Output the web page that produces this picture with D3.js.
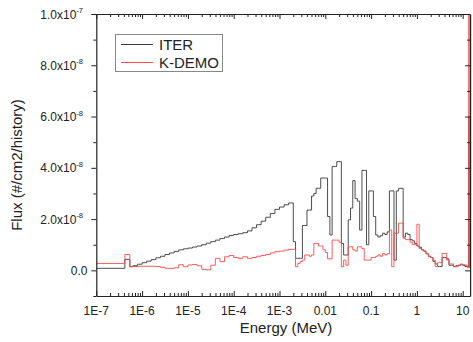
<!DOCTYPE html>
<html><head><meta charset="utf-8">
<script src="https://cdn.jsdelivr.net/npm/d3@7"></script>
<style>body{margin:0;background:#fff}svg{display:block}text{font-family:"Liberation Sans",Arial,sans-serif;fill:#222}</style>
</head><body><svg id="c" width="473" height="342"></svg>
<script>
// Energy group boundaries (MeV)
const energyEdges = [1e-7, 4.2e-7, 5.4e-7, 6.3e-7, 7.9e-7,
 1e-6, 1.26e-6, 1.58e-6, 2e-6, 2.51e-6, 3.16e-6, 3.98e-6, 5.01e-6, 6.31e-6, 7.94e-6,
 1e-5, 1.26e-5, 1.58e-5, 2e-5, 2.51e-5, 3.16e-5, 3.98e-5, 5.01e-5, 6.31e-5, 7.94e-5,
 1e-4, 1.26e-4, 1.58e-4, 2e-4, 2.51e-4, 3.16e-4, 3.98e-4, 5.01e-4, 6.31e-4, 7.94e-4,
 1e-3, 1.26e-3, 1.58e-3, 2e-3,
 2.24e-3, 2.51e-3, 2.82e-3, 3.16e-3, 3.55e-3, 3.98e-3, 4.47e-3, 5.01e-3, 5.62e-3, 6.31e-3, 7.08e-3, 7.94e-3, 8.91e-3,
 0.01, 0.0112, 0.0126, 0.0141, 0.0158, 0.0178, 0.02, 0.0224, 0.0251, 0.0282, 0.0316, 0.0355, 0.0398, 0.0447, 0.0501, 0.0562, 0.0631, 0.0708, 0.0794, 0.0891,
 0.1, 0.112, 0.126, 0.141, 0.158, 0.178, 0.2, 0.224, 0.251, 0.282, 0.316, 0.355, 0.398, 0.447, 0.501, 0.562, 0.631, 0.708, 0.794, 0.891,
 1, 1.12, 1.26, 1.41, 1.58, 1.78, 2, 2.24, 2.51, 2.82, 3.16, 3.55, 3.98, 4.47, 5.01, 5.62, 6.31, 7.08, 7.94, 8.91,
 10, 11.2, 12.6, 13.5, 14.2, 14.5];

// Flux per group, in units of 1e-8 #/cm2/history
const FLUX_UNIT = 1e-8;
const iterFlux = [0.08, 0.43, 0.14,
 0.18, 0.24, 0.30, 0.36, 0.42, 0.49, 0.55, 0.62, 0.68, 0.74,
 0.80, 0.84, 0.87, 0.91, 0.95, 1.00, 1.06, 1.12, 1.18, 1.24,
 1.30, 1.36, 1.40, 1.43, 1.47, 1.54, 1.66, 1.78, 1.92, 2.07,
 2.22, 2.38, 2.47, 2.56, 2.63,
 1.12, 0.47, 0.47, 0.47, 1.75, 1.75, 2.35, 2.35, 2.9, 3.0,
 3.2, 3.2, 3.6, 3.6, 3.6, 2.1, 1.38, 4.05, 4.05, 4.24,
 4.24, 1.05, 0.6, 0.6, 1.97, 2.43, 3.5, 2.8, 2.7, 1.57,
 3.9, 3.9, 1.0, 3.1, 3.1, 2.1, 1.38, 1.3, 1.35, 1.45,
 1.4, 1.5, 3.1, 3.1, 0.4, 3.1, 3.2, 3.2, 1.3, 1.45,
 1.4, 1.2, 1.15, 1.05, 0.95, 0.9, 0.8, 0.75, 0.65, 0.55,
 0.5, 0.35, 0.25, 0.15, 0.15, 0.5, 0.5, 0.45, 0.2, 0.2,
 0.15, 0.18, 0.2, 0.22, 0.2, 0.15,
 0.15, 6.0, 0.1];
const kdemoFlux = [0.27, 0.62, 0.15,
 0.15, 0.16, 0.16, 0.16, 0.16, 0.15, 0.12, 0.08, 0.08, 0.10,
 0.22, 0.14, 0.21, 0.23, 0.18, 0.04, 0.02, 0.2, 0.47, 0.34,
 0.53, 0.58, 0.5, 0.47, 0.53, 0.47, 0.5, 0.55, 0.58, 0.62,
 0.68, 0.73, 0.75, 0.79, 0.82,
 0.82, 0.14, 0.27, 0.35, 0.4, 0.6, 0.6, 0.55, 0.6, 1.05,
 1.05, 0.95, 0.95, 0.8, 0.7, 0.45, 0.45, 1.18, 1.18, 1.18,
 1.1, 0.14, 0.4, 0.2, 0.92, 0.92, 0.8, 0.75, 0.92, 0.92,
 0.85, 0.4, 0.4, 0.4, 0.5, 0.5, 0.55, 0.6, 0.55, 0.65,
 0.6, 0.65, 1.57, 0.14, 1.45, 1.45, 1.84, 1.84, 1.25, 1.2,
 1.2, 1.1, 1.0, 1.0, 1.8, 0.85, 0.8, 0.75, 0.65, 0.55,
 0.5, 0.4, 0.15, 0.3, 0.3, 0.66, 0.66, 0.4, 0.25, 0.25,
 0.14, 0.14, 0.2, 0.25, 0.22, 0.2,
 0.1, 30, 0.1];

const seriesNames = ["ITER", "K-DEMO"];
const seriesColors = ["#3a3a3a", "#ff4a4a"];
const xTickValues = [1e-7, 1e-6, 1e-5, 1e-4, 1e-3, 0.01, 0.1, 1, 10];
const xTickLabels = ["1E-7", "1E-6", "1E-5", "1E-4", "1E-3", "0.01", "0.1", "1", "10"];
const yTickValues = [0, 2e-8, 4e-8, 6e-8, 8e-8, 1e-7];
const yTickMantissa = ["0.0", "2.0x10", "4.0x10", "6.0x10", "8.0x10", "1.0x10"];
const yTickExponent = ["", "-8", "-8", "-8", "-8", "-7"];

const svg = d3.select("#c");
const L = 96.3, R = 470.1, T = 14, B = 296;
const x = d3.scaleLog().domain([1e-7, 14.5]).range([L, R]);
const y = d3.scaleLinear().domain([-1e-8, 1e-7]).range([B, T]);

svg.append("defs").append("clipPath").attr("id", "clip")
  .append("rect").attr("x", L).attr("y", T).attr("width", R - L).attr("height", B - T);

function stepPoints(flux) {
  return energyEdges.map((e, i) => [e, flux[Math.min(i, flux.length - 1)] * FLUX_UNIT]);
}
const line = d3.line().x(d => x(d[0])).y(d => y(d[1])).curve(d3.curveStepAfter);

const plot = svg.append("g").attr("clip-path", "url(#clip)");
[iterFlux, kdemoFlux].forEach((f, i) => {
  plot.append("path").attr("d", line(stepPoints(f)))
    .attr("fill", "none").attr("stroke", seriesColors[i]).attr("stroke-width", 0.9);
});

// Axes
const minorX = [];
for (let p = -7; p <= 1; p++) for (let m = 2; m <= 9; m++) { const v = m * Math.pow(10, p); if (v <= 14.5) minorX.push(v); }
const axisColor = "#222";
const styleAxis = g => { g.select(".domain").attr("stroke", axisColor).attr("stroke-width", 1.2); g.selectAll(".tick line").attr("stroke", axisColor); };
svg.append("g").attr("transform", `translate(0,${B})`)
  .call(d3.axisBottom(x).tickValues(xTickValues).tickFormat("").tickSizeInner(-5).tickSizeOuter(0)).call(styleAxis);
svg.append("g").attr("transform", `translate(0,${B})`)
  .call(d3.axisBottom(x).tickValues(minorX).tickFormat("").tickSizeInner(-3).tickSizeOuter(0))
  .call(g => g.select(".domain").remove()).call(styleAxis);
svg.append("g").attr("transform", `translate(0,${T})`)
  .call(d3.axisTop(x).tickValues(xTickValues).tickFormat("").tickSizeInner(-5).tickSizeOuter(0)).call(styleAxis);
svg.append("g").attr("transform", `translate(0,${T})`)
  .call(d3.axisTop(x).tickValues(minorX).tickFormat("").tickSizeInner(-3).tickSizeOuter(0))
  .call(g => g.select(".domain").remove()).call(styleAxis);
// x tick labels
svg.append("g").selectAll("text").data(xTickValues).join("text")
  .attr("x", d => x(d)).attr("y", 315).attr("text-anchor", "middle")
  .attr("font-size", 12).text((d, i) => xTickLabels[i]);

const yMinor = [-1e-8, 1e-8, 3e-8, 5e-8, 7e-8, 9e-8];
svg.append("g").attr("transform", `translate(${L},0)`)
  .call(d3.axisLeft(y).tickValues(yTickValues).tickFormat("").tickSizeInner(5).tickSizeOuter(0)).call(styleAxis);
svg.append("g").attr("transform", `translate(${L},0)`)
  .call(d3.axisLeft(y).tickValues(yMinor).tickFormat("").tickSizeInner(3).tickSizeOuter(0))
  .call(g => g.select(".domain").remove()).call(styleAxis);
svg.append("g").attr("transform", `translate(${R},0)`)
  .call(d3.axisRight(y).tickValues(yTickValues).tickFormat("").tickSizeInner(-5).tickSizeOuter(0)).call(styleAxis);
svg.append("g").attr("transform", `translate(${R},0)`)
  .call(d3.axisRight(y).tickValues(yMinor).tickFormat("").tickSizeInner(-3).tickSizeOuter(0))
  .call(g => g.select(".domain").remove()).call(styleAxis);

const yl = svg.append("g").selectAll("text").data(yTickValues).join("text")
  .attr("x", (d, i) => yTickExponent[i] ? 83 : 87.5).attr("y", d => y(d) + 4.5)
  .attr("text-anchor", "end").attr("font-size", 12);
yl.append("tspan").text((d, i) => yTickMantissa[i]);
yl.append("tspan").attr("dy", -5.5).attr("font-size", 7.5).text((d, i) => yTickExponent[i]);

// Axis titles
svg.append("text").attr("x", 286).attr("y", 333).attr("text-anchor", "middle")
  .attr("font-size", 15).text("Energy (MeV)");
svg.append("text").attr("transform", "translate(22,165) rotate(-90)").attr("text-anchor", "middle")
  .attr("font-size", 15).text("Flux (#/cm2/history)");

// Legend
const lg = svg.append("g");
lg.append("rect").attr("x", 115.5).attr("y", 34.5).attr("width", 107).attr("height", 37)
  .attr("fill", "#fff").attr("stroke", "#888").attr("stroke-width", 1);
seriesNames.forEach((n, i) => {
  const yy = 44.5 + i * 18;
  lg.append("line").attr("x1", 121).attr("x2", 153).attr("y1", yy).attr("y2", yy)
    .attr("stroke", seriesColors[i]).attr("stroke-width", 1);
  lg.append("text").attr("x", 159).attr("y", yy + 5.5).attr("font-size", 15).text(n);
});
</script></body></html>
